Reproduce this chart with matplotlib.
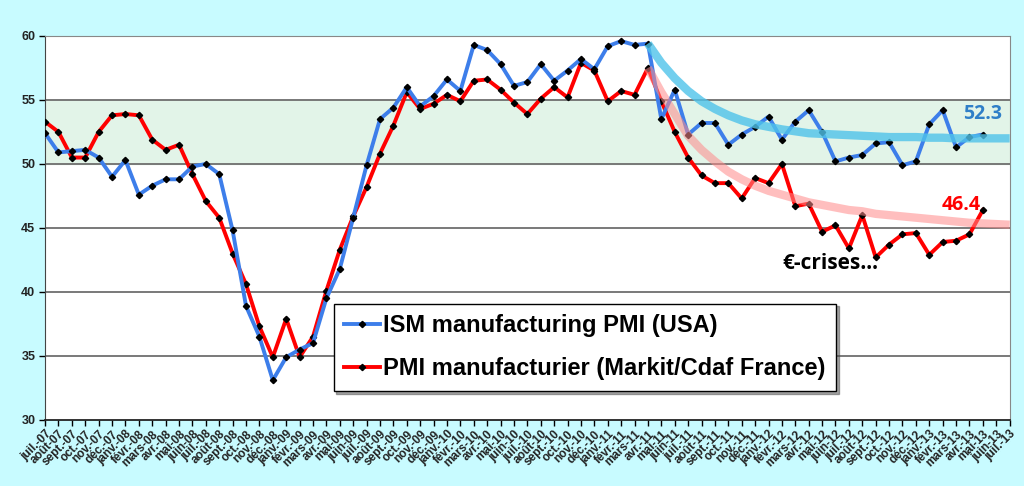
import matplotlib.pyplot as plt
import numpy as np

# month labels, juil-07 .. juil-13
mois = ['janv.', 'févr.', 'mars', 'avr.', 'mai', 'juin',
        'juil.', 'août', 'sept.', 'oct.', 'nov.', 'déc.']
labels = []
for k in range(73):
    m = (6 + k) % 12
    yr = 7 + (6 + k) // 12
    labels.append(f'{mois[m]}-{yr:02d}')

# ISM manufacturing PMI (USA), juil-07 .. mai-13
ism = [52.4, 50.9, 51.0, 51.1, 50.5, 49.0, 50.3, 47.6, 48.3, 48.8, 48.8, 49.8,
       50.0, 49.2, 44.8, 38.9, 36.5, 33.1, 34.9, 35.5, 36.0, 39.5, 41.8, 45.8,
       49.9, 53.5, 54.4, 56.0, 54.5, 55.3, 56.6, 55.7, 59.3, 58.9, 57.8, 56.1,
       56.4, 57.8, 56.5, 57.3, 58.2, 57.4, 59.2, 59.6, 59.3, 59.4, 53.5, 55.8,
       52.3, 53.2, 53.2, 51.5, 52.3, 52.9, 53.7, 51.9, 53.3, 54.2, 52.5, 50.2,
       50.5, 50.7, 51.6, 51.7, 49.9, 50.2, 53.1, 54.2, 51.3, 52.1, 52.3]

# PMI manufacturier (Markit/Cdaf France)
pmi_fr = [53.3, 52.5, 50.5, 50.5, 52.5, 53.8, 53.9, 53.8, 51.9, 51.1, 51.5, 49.2,
          47.1, 45.8, 43.0, 40.6, 37.3, 34.9, 37.9, 34.9, 36.5, 40.1, 43.3, 45.9,
          48.2, 50.8, 53.0, 55.6, 54.3, 54.7, 55.4, 54.9, 56.5, 56.6, 55.8, 54.8,
          53.9, 55.1, 56.0, 55.2, 57.9, 57.3, 54.9, 55.7, 55.4, 57.5, 54.9, 52.5,
          50.5, 49.1, 48.5, 48.5, 47.3, 48.9, 48.5, 50.0, 46.7, 46.9, 44.7, 45.2,
          43.4, 46.0, 42.7, 43.7, 44.5, 44.6, 42.9, 43.9, 44.0, 44.5, 46.4]

# hand-drawn trend curves, mai-11 .. juil-13
trend_start = 45
trend_us = [59.4, 57.9, 56.7, 55.7, 54.9, 54.3, 53.8, 53.4, 53.1, 52.9, 52.7, 52.55,
            52.4, 52.35, 52.3, 52.25, 52.2, 52.15, 52.1, 52.1, 52.1, 52.05, 52.05,
            52.0, 52.0, 52.0, 52.0, 52.0]
trend_fr = [57.5, 55.6, 53.9, 52.2, 51.1, 50.2, 49.4, 48.8, 48.3, 47.9, 47.6, 47.3,
            47.0, 46.8, 46.6, 46.4, 46.3, 46.1, 46.0, 45.9, 45.8, 45.7, 45.6, 45.5,
            45.4, 45.35, 45.3, 45.25]

fig = plt.figure(figsize=(10.24, 4.86), dpi=100, facecolor='#c8fbff')
ax = fig.add_axes([0.044, 0.136, 0.942, 0.790])
ax.set_facecolor('white')

# green 50-55 band
ax.axhspan(50, 55, color='#e2f4e8', zorder=0)
for yv in [35, 40, 45, 50, 55]:
    ax.axhline(yv, color='#6e6e6e', lw=1.3, zorder=1)

x = np.arange(len(ism))
ax.plot(x, ism, color='#3d7eea', lw=2.8, marker='D', ms=3.2,
        mfc='black', mec='black', zorder=4, label='ISM manufacturing PMI (USA)')
ax.plot(x, pmi_fr, color='#ff0000', lw=2.8, marker='D', ms=3.2,
        mfc='black', mec='black', zorder=3, label='PMI manufacturier (Markit/Cdaf France)')

xt = np.arange(trend_start, trend_start + len(trend_us))
ax.plot(xt, trend_us, color='#4fc3ea', lw=6, alpha=0.8, zorder=5,
        solid_capstyle='butt')
ax.plot(xt, trend_fr, color='#ff8a8a', lw=6, alpha=0.55, zorder=5,
        solid_capstyle='butt')

ax.text(68.5, 53.5, '52.3', color='#2f7fc8', fontsize=14, fontweight='bold',
        family='Open Sans')
ax.text(66.9, 46.4, '46.4', color='#ff0000', fontsize=14, fontweight='bold',
        family='Open Sans')
ax.text(55.0, 41.8, '€-crises…', color='black', fontsize=15, fontweight='bold',
        family='Open Sans')

ax.set_xlim(0, 72)
ax.set_ylim(30, 60)
ax.set_yticks([30, 35, 40, 45, 50, 55, 60])
ax.set_xticks(np.arange(73))
ax.set_xticklabels(labels, rotation=45, ha='right', va='top',
                   rotation_mode='anchor', fontsize=8.5, fontweight='bold',
                   color='#222222', family='Liberation Sans')
for t in ax.get_yticklabels():
    t.set_fontweight('bold')
    t.set_fontsize(9)
    t.set_color('#222222')
    t.set_family('Liberation Sans')
ax.tick_params(axis='x', direction='out', length=4, width=1, pad=2)
ax.tick_params(axis='y', direction='out', length=4, width=1, pad=3)

ax.spines['left'].set_color('#444444')
ax.spines['bottom'].set_color('#222222')
ax.spines['top'].set_color('#888888')
ax.spines['right'].set_color('#888888')
ax.spines['bottom'].set_linewidth(1.3)

leg = ax.legend(loc='lower left', bbox_to_anchor=(0.287, 0.045), frameon=True,
                fancybox=False, shadow=True, handlelength=1.5, handletextpad=0.15,
                borderpad=0.45, labelspacing=0.85,
                prop={'family': 'Liberation Sans', 'weight': 'bold', 'size': 17})
leg.get_frame().set_edgecolor('black')
leg.get_frame().set_linewidth(1.0)
leg.set_zorder(10)

fig.savefig('out.png', dpi=100, facecolor=fig.get_facecolor())
